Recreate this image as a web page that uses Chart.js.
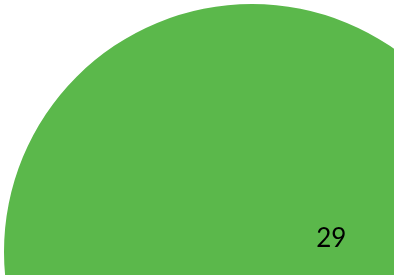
<!DOCTYPE html>
<html>
<head>
<meta charset="utf-8">
<script src="https://cdn.jsdelivr.net/npm/chart.js@4"></script>
<style>
  html, body { margin: 0; padding: 0; background: #fff; overflow: hidden; width: 394px; height: 275px; }
  #wrap { position: absolute; left: 0; top: 0; width: 504px; height: 504px; }
</style>
</head>
<body>
<div id="wrap"><canvas id="pieChart" width="504" height="504"></canvas></div>
<script>
/* ===============================
   DATA
================================ */
const categories = ["A"];
const values = [29];
const colors = ["#5bb84b"];

// draw the value inside the slice
const valueLabels = {
  id: "valueLabels",
  afterDatasetsDraw(chart) {
    const ctx = chart.ctx;
    const meta = chart.getDatasetMeta(0);
    meta.data.forEach((arc, i) => {
      const r = arc.outerRadius;
      ctx.save();
      ctx.fillStyle = "#000";
      ctx.font = "26px Lato, 'Noto Sans', sans-serif";
      ctx.textAlign = "center";
      ctx.textBaseline = "middle";
      ctx.fillText(String(values[i]), arc.x + r * 0.32, arc.y - r * 0.055);
      ctx.restore();
    });
  },
};

new Chart(document.getElementById("pieChart"), {
  type: "pie",
  data: {
    labels: categories,
    datasets: [
      {
        data: values,
        backgroundColor: colors,
        borderWidth: 0,
      },
    ],
  },
  options: {
    responsive: false,
    animation: false,
    layout: { padding: 4 },
    plugins: {
      legend: { display: false },
      tooltip: { enabled: false },
    },
  },
  plugins: [valueLabels],
});
</script>
</body>
</html>
